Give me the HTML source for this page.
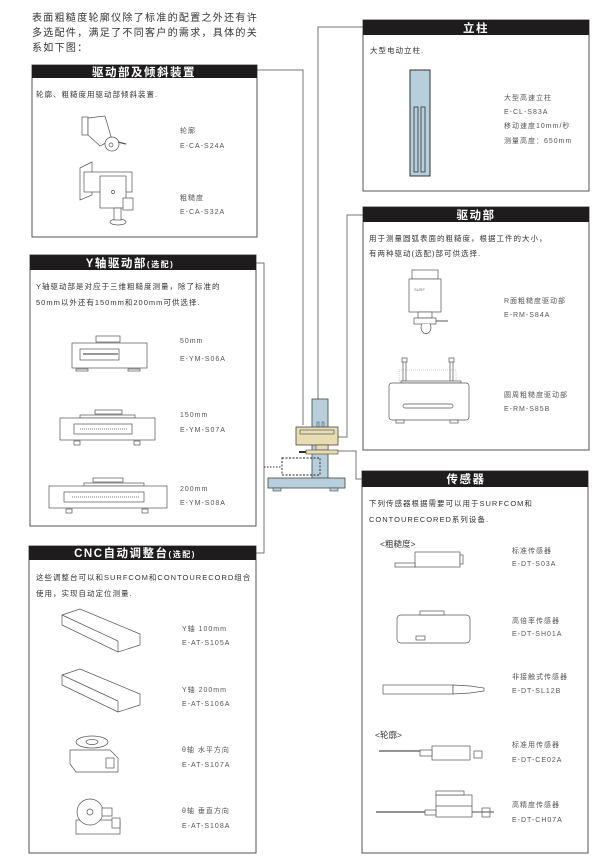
<!DOCTYPE html>
<html><head><meta charset="utf-8">
<style>
html,body{margin:0;padding:0;background:#fff;}
svg{display:block;}
text{font-family:"Liberation Sans","Noto Sans CJK SC",sans-serif;fill:#333;}
.t{font-size:7.5px;letter-spacing:1px;}
.s{font-size:7px;letter-spacing:1px;fill:#555;}
.h{font-size:11.5px;fill:#fff;font-weight:bold;letter-spacing:1.5px;}
.box{fill:#fff;stroke:#555;stroke-width:1;}
.hd{fill:#1e1c1c;}
.ln{fill:none;stroke:#777;stroke-width:1;}
.d{fill:#fff;stroke:#555;stroke-width:0.7;}
.dg{fill:#f2f2f2;stroke:#555;stroke-width:0.7;}
</style></head><body>
<svg width="610" height="858" viewBox="0 0 610 858" xmlns="http://www.w3.org/2000/svg">
<!-- intro -->
<text x="32" y="21" style="font-size:10px;letter-spacing:1.3px">表面粗糙度轮廓仪除了标准的配置之外还有许</text>
<text x="32" y="36" style="font-size:10px;letter-spacing:1.3px">多选配件，满足了不同客户的需求，具体的关</text>
<text x="32" y="51" style="font-size:10px;letter-spacing:1.3px">系如下图：</text>

<!-- connectors -->
<polyline class="ln" points="257,70 303,70 303,425"/>
<polyline class="ln" points="363,27 318,27 318,399"/>
<polyline class="ln" points="256,263 264,263 264,553 256,553"/>
<polyline class="ln" points="264,467 282,467" style="stroke-dasharray:1.5 1.5;stroke:#333"/>
<polyline class="ln" points="363,215 347,215 347,437 338,437"/>
<polyline class="ln" points="362,479 356,479 356,451 338,451"/>

<!-- machine -->
<rect x="312" y="399" width="16" height="80" fill="#b6cfdb" stroke="#444" stroke-width="0.8"/>
<rect x="317" y="422" width="2" height="6" fill="none" stroke="#444" stroke-width="0.5"/>
<rect x="322" y="422" width="2" height="6" fill="none" stroke="#444" stroke-width="0.5"/>
<rect x="296" y="427" width="42" height="18" fill="#e8ddb2" stroke="#444" stroke-width="0.8"/>
<rect x="300" y="430" width="34" height="4" fill="none" stroke="#444" stroke-width="0.6"/>
<rect x="316" y="445" width="12" height="5" fill="#e8ddb2" stroke="#444" stroke-width="0.6"/>
<rect x="306" y="450" width="32" height="4" fill="#e8ddb2" stroke="#444" stroke-width="0.6"/>
<rect x="299" y="451" width="7" height="2" fill="#333"/>
<rect x="282" y="458" width="38" height="17" fill="none" stroke="#222" stroke-width="0.9" stroke-dasharray="2 1.5"/>
<rect x="268" y="478" width="77" height="10" fill="#b6cfdb" stroke="#444" stroke-width="0.8"/>
<rect x="273" y="488" width="8" height="3" fill="#b6cfdb" stroke="#444" stroke-width="0.6"/>
<rect x="330" y="488" width="8" height="3" fill="#b6cfdb" stroke="#444" stroke-width="0.6"/>

<!-- Box 1 -->
<rect class="box" x="32" y="65" width="225" height="172"/>
<rect class="hd" x="32" y="65" width="225" height="13"/>
<text class="h" x="144" y="76" text-anchor="middle">驱动部及倾斜装置</text>
<text class="t" x="36" y="97">轮廓、粗糙度用驱动部倾斜装置.</text>
<g>
<rect class="d" x="82" y="117" width="6" height="18"/>
<path class="d" d="M88,118 L105,116 L112,140 L100,146 L88,135 Z"/>
<circle class="d" cx="112" cy="144" r="7"/><circle class="d" cx="111" cy="145" r="2"/>
<line x1="118" y1="142" x2="126" y2="144" stroke="#555" stroke-width="1.2"/>
<path class="d" d="M80,168 L92,162 L92,195 L80,200 Z"/>
<rect class="d" x="84" y="172" width="48" height="20"/>
<rect class="d" x="100" y="176" width="26" height="32"/>
<circle class="d" cx="113" cy="192" r="1.5"/>
<rect class="d" x="123" y="198" width="10" height="12"/>
<ellipse class="d" cx="118" cy="222" rx="8" ry="3"/>
<rect class="d" x="114" y="208" width="7" height="12"/>
</g>
<text class="s" x="180" y="133">轮廓</text>
<text class="s" x="180" y="148">E-CA-S24A</text>
<text class="s" x="180" y="200">粗糙度</text>
<text class="s" x="180" y="214">E-CA-S32A</text>

<!-- Y box -->
<rect class="box" x="30" y="255" width="226" height="271"/>
<rect class="hd" x="30" y="255" width="226" height="15"/>
<text class="h" x="130" y="267" text-anchor="middle">Y轴驱动部<tspan style="font-size:8px">(选配)</tspan></text>
<text class="t" x="36" y="289">Y轴驱动部是对应于三维粗糙度测量，除了标准的</text>
<text class="t" x="36" y="305">50mm以外还有150mm和200mm可供选择.</text>
<g>
<rect class="d" x="96" y="336" width="24" height="6"/>
<rect class="d" x="72" y="343" width="75" height="25"/>
<rect class="d" x="80" y="349" width="39" height="11"/>
<line x1="83" y1="354" x2="118" y2="354" stroke="#333"/>
<rect class="d" x="76" y="369" width="12" height="2"/><rect class="d" x="128" y="369" width="12" height="2"/>
<rect class="d" x="95" y="410" width="27" height="4"/>
<rect class="d" x="80" y="415" width="55" height="3"/>
<rect class="d" x="60" y="418" width="95" height="22"/>
<rect class="d" x="74" y="424" width="58" height="10"/>
<line x1="80" y1="429" x2="128" y2="429" stroke="#777" stroke-dasharray="1 1"/>
<rect class="d" x="74" y="441" width="6" height="4"/><rect class="d" x="134" y="441" width="6" height="4"/>
<rect class="d" x="93" y="478" width="30" height="4"/>
<rect class="d" x="84" y="483" width="60" height="3"/>
<rect class="d" x="49" y="486" width="118" height="22"/>
<rect class="d" x="64" y="492" width="80" height="10"/>
<line x1="72" y1="497" x2="140" y2="497" stroke="#777" stroke-dasharray="1 1"/>
<rect class="d" x="66" y="509" width="6" height="4"/><rect class="d" x="142" y="509" width="6" height="4"/>
</g>
<text class="s" x="180" y="343">50mm</text>
<text class="s" x="180" y="361">E-YM-S06A</text>
<text class="s" x="180" y="417">150mm</text>
<text class="s" x="180" y="432">E-YM-S07A</text>
<text class="s" x="180" y="491">200mm</text>
<text class="s" x="180" y="505">E-YM-S08A</text>

<!-- CNC box -->
<rect class="box" x="29" y="546" width="227" height="307"/>
<rect class="hd" x="29" y="546" width="227" height="14"/>
<text class="h" x="135" y="557" text-anchor="middle">CNC自动调整台<tspan style="font-size:8px">(选配)</tspan></text>
<text class="t" x="36" y="580">这些调整台可以和SURFCOM和CONTOURECORD组合</text>
<text class="t" x="36" y="596">使用，实现自动定位测量.</text>
<g>
<path class="d" d="M62,615 L80,609 L140,634 L140,645 L118,652 L62,625 Z"/>
<line x1="62" y1="615" x2="118" y2="641" stroke="#555" stroke-width="0.7"/><line x1="118" y1="641" x2="118" y2="652" stroke="#555" stroke-width="0.7"/>
<path class="d" d="M62,675 L80,669 L140,694 L140,705 L118,712 L62,685 Z"/>
<line x1="62" y1="675" x2="118" y2="701" stroke="#555" stroke-width="0.7"/><line x1="118" y1="701" x2="118" y2="712" stroke="#555" stroke-width="0.7"/>
<path class="d" d="M70,750 L110,750 L118,758 L118,772 L76,772 L70,764 Z"/>
<ellipse class="d" cx="92" cy="742" rx="16" ry="6"/><ellipse class="d" cx="92" cy="742" rx="6" ry="2.5"/>
<rect class="d" x="106" y="758" width="8" height="10"/>
<rect class="d" x="76" y="820" width="44" height="14"/>
<circle class="d" cx="90" cy="812" r="13"/><circle class="d" cx="90" cy="812" r="3"/>
<rect class="d" x="102" y="808" width="10" height="8"/><rect class="d" x="112" y="818" width="8" height="10"/>
</g>
<text class="s" x="182" y="631">Y轴 100mm</text>
<text class="s" x="182" y="645">E-AT-S105A</text>
<text class="s" x="182" y="692">Y轴 200mm</text>
<text class="s" x="182" y="706">E-AT-S106A</text>
<text class="s" x="182" y="752">θ轴 水平方向</text>
<text class="s" x="182" y="767">E-AT-S107A</text>
<text class="s" x="182" y="813">θ轴 垂直方向</text>
<text class="s" x="182" y="828">E-AT-S108A</text>

<!-- 立柱 -->
<rect class="box" x="363" y="20" width="226" height="171"/>
<rect class="hd" x="363" y="20" width="226" height="15"/>
<text class="h" x="476" y="32" text-anchor="middle">立柱</text>
<text class="t" x="370" y="53">大型电动立柱.</text>
<rect x="410" y="70" width="20" height="106" fill="#b6cfdb" stroke="#333" stroke-width="1"/>
<rect x="414" y="107" width="4" height="65" fill="none" stroke="#333" stroke-width="0.8"/>
<rect x="421" y="107" width="4" height="65" fill="none" stroke="#333" stroke-width="0.8"/>
<text class="s" x="504" y="100">大型高速立柱</text>
<text class="s" x="504" y="114">E-CL-S83A</text>
<text class="s" x="504" y="128">移动速度10mm/秒</text>
<text class="s" x="504" y="143">测量高度：650mm</text>

<!-- 驱动部 -->
<rect class="box" x="363" y="207" width="226" height="243"/>
<rect class="hd" x="363" y="207" width="226" height="15"/>
<text class="h" x="476" y="219" text-anchor="middle">驱动部</text>
<text class="t" x="369" y="241">用于测量圆弧表面的粗糙度，根据工件的大小，</text>
<text class="t" x="369" y="256">有两种驱动(选配)部可供选择.</text>
<g>
<rect class="d" x="412" y="270" width="26" height="9"/>
<rect class="d" x="409" y="279" width="32" height="33"/>
<text x="414" y="291" style="font-size:4px;fill:#777">SURF</text>
<rect class="d" x="418" y="312" width="14" height="6"/>
<rect class="d" x="414" y="318" width="22" height="6"/>
<line x1="436" y1="321" x2="448" y2="321" stroke="#555"/>
<path class="d" d="M422,324 a5,6 0 1 0 8,0"/>
<rect class="d" x="403" y="361" width="3" height="20"/><rect class="d" x="450" y="361" width="3" height="20"/>
<rect class="d" x="402" y="358" width="5" height="4"/><rect class="d" x="449" y="358" width="5" height="4"/>
<rect x="399" y="370" width="57" height="11" fill="none" stroke="#999" stroke-width="0.5" stroke-dasharray="1 1"/>
<rect class="d" x="401" y="381" width="60" height="2"/>
<rect class="d" x="389" y="383" width="80" height="37" rx="3"/>
<rect class="d" x="403" y="404" width="50" height="4" rx="2"/>
<rect class="d" x="396" y="420" width="8" height="3"/><rect class="d" x="450" y="420" width="8" height="3"/>
</g>
<text class="s" x="504" y="303">R面粗糙度驱动部</text>
<text class="s" x="504" y="317">E-RM-S84A</text>
<text class="s" x="504" y="397">圆周粗糙度驱动部</text>
<text class="s" x="504" y="411">E-RM-S85B</text>

<!-- 传感器 -->
<rect class="box" x="362" y="471" width="226" height="382"/>
<rect class="hd" x="362" y="471" width="226" height="16"/>
<text class="h" x="466" y="483" text-anchor="middle">传感器</text>
<text class="t" x="369" y="506">下列传感器根据需要可以用于SURFCOM和</text>
<text class="t" x="369" y="522">CONTOURECORED系列设备.</text>
<text x="380" y="547" style="font-size:8.5px;fill:#333">&lt;粗糙度&gt;</text>
<text x="375" y="738" style="font-size:8.5px;fill:#333">&lt;轮廓&gt;</text>
<g>
<rect class="d" x="415" y="552" width="45" height="15"/>
<rect class="d" x="460" y="555" width="3" height="9"/>
<rect class="d" x="395" y="563" width="20" height="4"/>
<rect class="d" x="397" y="615" width="73" height="28" rx="4"/>
<rect class="d" x="420" y="611" width="24" height="4"/>
<rect class="d" x="416" y="636" width="9" height="4"/>
<rect class="d" x="383" y="685" width="70" height="9"/>
<path class="d" d="M453,685 L470,686 L484,688 L484,691 L470,693 L453,694 Z"/>
<rect class="d" x="432" y="746" width="38" height="14"/>
<line x1="379" y1="751" x2="420" y2="751" stroke="#555" stroke-width="1.2"/>
<rect class="d" x="420" y="750" width="12" height="6"/>
<rect class="d" x="474" y="751" width="8" height="7"/>
<rect class="d" x="436" y="795" width="36" height="22"/>
<line x1="436" y1="806" x2="472" y2="806" stroke="#555" stroke-width="0.7"/>
<rect class="d" x="436" y="791" width="28" height="4"/>
<line x1="376" y1="812" x2="425" y2="812" stroke="#555" stroke-width="1.2"/>
<rect class="d" x="425" y="810" width="11" height="5"/>
<rect class="d" x="482" y="808" width="8" height="9"/>
<line x1="472" y1="812" x2="494" y2="812" stroke="#555"/>
</g>
<text class="s" x="512" y="553">标准传感器</text>
<text class="s" x="512" y="566">E-DT-S03A</text>
<text class="s" x="512" y="623">高倍率传感器</text>
<text class="s" x="512" y="636">E-DT-SH01A</text>
<text class="s" x="512" y="679">非接触式传感器</text>
<text class="s" x="512" y="693">E-DT-SL12B</text>
<text class="s" x="512" y="747">标准用传感器</text>
<text class="s" x="512" y="762">E-DT-CE02A</text>
<text class="s" x="512" y="807">高精度传感器</text>
<text class="s" x="512" y="822">E-DT-CH07A</text>
</svg>
</body></html>
